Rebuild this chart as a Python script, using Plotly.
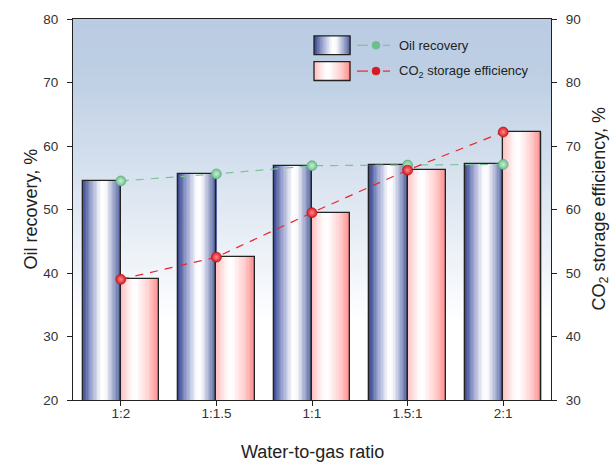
import plotly.graph_objects as go

# Data
ratios = ["1:2", "1:1.5", "1:1", "1.5:1", "2:1"]
oil_recovery = [54.5, 55.6, 56.9, 57.0, 57.1]          # %, left axis
co2_storage = [49.0, 52.5, 59.5, 66.2, 72.2]           # %, right axis
left_ticks = [20, 30, 40, 50, 60, 70, 80]
right_ticks = [30, 40, 50, 60, 70, 80, 90]

FONT = "Liberation Sans, Arial, sans-serif"
BAR_W = 0.4
N_SLICE = 28


def lerp(c1, c2, t):
    return tuple(round(a + (b - a) * t) for a, b in zip(c1, c2))


def profile(stops, t):
    for (t0, c0), (t1, c1) in zip(stops, stops[1:]):
        if t0 <= t <= t1:
            return lerp(c0, c1, (t - t0) / (t1 - t0) if t1 > t0 else 0)
    return stops[-1][1]


def rgb(c):
    return "rgb(%d,%d,%d)" % c


BLUE_STOPS = [(0.0, (52, 66, 138)), (0.22, (150, 160, 205)), (0.5, (255, 255, 255)),
              (0.62, (250, 250, 253)), (0.85, (150, 160, 200)), (1.0, (80, 95, 155))]
PINK_STOPS = [(0.0, (255, 190, 190)), (0.3, (255, 250, 250)), (0.42, (255, 255, 255)),
              (0.75, (255, 205, 205)), (1.0, (255, 140, 140))]

fig = go.Figure()

# Gradient bars: vertical slices across each bar's width
for series, stops, offset0, axis in [(oil_recovery, BLUE_STOPS, -BAR_W, "y"),
                                     (co2_storage, PINK_STOPS, 0.0, "y2")]:
    w = BAR_W / N_SLICE
    for i in range(N_SLICE):
        t = (i + 0.5) / N_SLICE
        fig.add_trace(go.Bar(
            x=ratios, y=series, width=w * 1.05, offset=offset0 + i * w,
            marker=dict(color=rgb(profile(stops, t)), line=dict(width=0)),
            yaxis=axis, showlegend=False, hoverinfo="skip"))
    # outline
    fig.add_trace(go.Bar(
        x=ratios, y=series, width=BAR_W, offset=offset0,
        marker=dict(color="rgba(0,0,0,0)", line=dict(color="#222222", width=1.3)),
        yaxis=axis, showlegend=False, hoverinfo="skip"))

# Lines with sphere-like markers
fig.add_trace(go.Scatter(
    x=ratios, y=co2_storage, mode="lines+markers", yaxis="y4",
    line=dict(color="#e8262c", width=1.2, dash="8px,7px"),
    marker=dict(size=10, color="#d81a22", line=dict(color="#b01018", width=0.6),
                gradient=dict(type="radial", color="#ff8a8a")),
    showlegend=False))
fig.add_trace(go.Scatter(
    x=ratios, y=oil_recovery, mode="lines+markers", yaxis="y3",
    line=dict(color="#7cc498", width=1.2, dash="8px,7px"),
    marker=dict(size=10, color="#6cbf8c", line=dict(color="#5aa878", width=0.6),
                gradient=dict(type="radial", color="#c8f0d6")),
    showlegend=False))

shapes = []
annotations = []

# Plot-area background gradient (steel blue at top fading to white)
N_BG = 80
top_c = (186, 204, 227)
for i in range(N_BG):
    y0 = i / N_BG
    y1 = (i + 1) / N_BG
    ym = (y0 + y1) / 2
    if ym < 0.2:
        c = (255, 255, 255)
    elif ym < 0.85:
        c = lerp((255, 255, 255), (190, 207, 228), (ym - 0.2) / 0.65)
    else:
        c = lerp((190, 207, 228), top_c, (ym - 0.85) / 0.15)
    shapes.append(dict(type="rect", xref="paper", yref="paper", x0=0, x1=1,
                       y0=y0, y1=y1 + 0.002, fillcolor=rgb(c),
                       line=dict(width=0), layer="below"))

# Pixel helpers for the plot frame
L, R, T, B = 73, 551, 16, 400
px = lambda v: (v - L) / (R - L)
py = lambda v: (B - v) / (B - T)

# Legend (bar swatch + line/marker symbol + label)
legend_items = [
    (BLUE_STOPS, "#7cc498", "#6cbf8c", "Oil recovery", 33, 52),
    (PINK_STOPS, "#e8262c", "#d81a22", "CO<sub>2</sub> storage efficiency", 59, 78),
]
for stops, lc, mc, label, y0, y1 in legend_items:
    n = 24
    bx0, bx1 = 314, 350
    for i in range(n):
        t = (i + 0.5) / n
        xa = bx0 + (bx1 - bx0) * i / n
        xb = bx0 + (bx1 - bx0) * (i + 1) / n
        shapes.append(dict(type="rect", xref="paper", yref="paper",
                           x0=px(xa), x1=px(xb) + 0.0015, y0=py(y1), y1=py(y0),
                           fillcolor=rgb(profile(stops, t)), line=dict(width=0)))
    shapes.append(dict(type="rect", xref="paper", yref="paper",
                       x0=px(bx0), x1=px(bx1), y0=py(y1), y1=py(y0),
                       line=dict(color="#222222", width=1.3)))
    yc = (y0 + y1) / 2
    for sx0, sx1 in [(357, 368), (383, 390)]:
        shapes.append(dict(type="line", xref="paper", yref="paper",
                           x0=px(sx0), x1=px(sx1), y0=py(yc), y1=py(yc),
                           line=dict(color=lc, width=1.2)))
    shapes.append(dict(type="circle", xref="paper", yref="paper",
                       x0=px(372), x1=px(380), y0=py(yc + 4), y1=py(yc - 4),
                       fillcolor=mc, line=dict(color=mc, width=0.6)))
    annotations.append(dict(x=px(397), y=py(yc), xref="paper", yref="paper",
                            text=label, showarrow=False, xanchor="left",
                            yanchor="middle",
                            font=dict(family=FONT, size=13, color="#222")))

# Axis titles
title_font = dict(family=FONT, size=18, color="#222")
annotations.append(dict(x=0.5, y=py(452), xref="paper", yref="paper",
                        text="Water-to-gas ratio", showarrow=False,
                        xanchor="center", yanchor="middle", font=title_font))
annotations.append(dict(x=px(30), y=0.5, xref="paper", yref="paper",
                        text="Oil recovery, %", showarrow=False, textangle=-90,
                        xanchor="center", yanchor="middle", font=title_font))
annotations.append(dict(x=px(600), y=0.5, xref="paper", yref="paper",
                        text="CO<sub>2</sub> storage efficiency, %", showarrow=False,
                        textangle=-90, xanchor="center", yanchor="middle",
                        font=title_font))

axis_common = dict(showline=True, linecolor="#222", linewidth=1.2,
                   ticks="outside", ticklen=5, tickwidth=1.2, tickcolor="#222",
                   showgrid=False, zeroline=False,
                   tickfont=dict(family=FONT, size=13.5, color="#333"))

fig.update_layout(
    width=612, height=462,
    margin=dict(l=73, r=61, t=16, b=62),
    paper_bgcolor="white", plot_bgcolor="white",
    barmode="overlay", bargap=0,
    shapes=shapes, annotations=annotations,
    showlegend=False,
    xaxis=dict(**axis_common, mirror=True, range=[-0.5, 4.5],
               ticklabelstandoff=-4),
    yaxis=dict(**axis_common, range=[20, 80], tickvals=left_ticks,
               ticklabelstandoff=6),
    yaxis2=dict(**axis_common, range=[30, 90], tickvals=right_ticks,
                overlaying="y", side="right", ticklabelstandoff=6),
    yaxis3=dict(range=[20, 80], overlaying="y", visible=False),
    yaxis4=dict(range=[30, 90], overlaying="y", visible=False),
)

fig.write_html("out.html")
